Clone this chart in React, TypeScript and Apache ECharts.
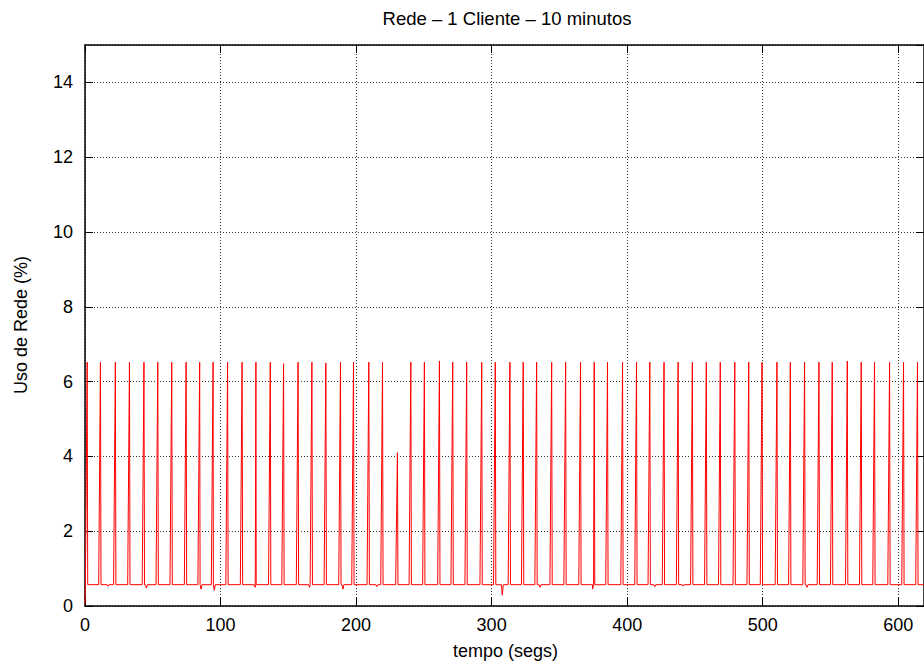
import React, { useEffect, useRef } from "react";
import * as echarts from "echarts";

const TITLE = "Rede – 1 Cliente – 10 minutos";
const X_LABEL = "tempo (segs)";
const Y_LABEL = "Uso de Rede (%)";

const X_MIN = 0;
const X_MAX = 619;
const X_INTERVAL = 100;
const Y_MIN = 0;
const Y_MAX = 15;
const Y_INTERVAL = 2;

// peak times (s) of each traffic burst
const spikeTimes = [
  1.6, 11.4, 22.4, 32.8, 43.5, 53.7, 64.0, 74.6, 84.6, 94.5, 105.2, 115.9, 126.1, 136.7, 146.5, 157.2,
  167.4, 177.7, 188.5, 198.1, 209.4, 219.5, 230.5, 240.4, 250.4, 261.5, 271.3, 281.6, 292.7, 302.7, 313.5,
  323.3, 333.2, 344.3, 354.6, 365.6, 375.7, 385.5, 396.6, 406.9, 416.7, 427.2, 437.6, 448.1, 458.4, 468.7, 479.4,
  489.7, 499.5, 510.5, 520.4, 530.9, 541.5, 551.3, 562.4, 572.7, 582.5, 593.6, 603.9, 614.2,
];
// peak values (%) of each burst
const spikePeaks = [
  6.52, 6.52, 6.52, 6.52, 6.52, 6.52, 6.52, 6.52, 6.52, 6.52, 6.52, 6.52, 6.52, 6.52, 6.48, 6.52,
  6.52, 6.5, 6.52, 6.52, 6.52, 6.52, 4.1, 6.52, 6.52, 6.55, 6.52, 6.52, 6.52, 6.52, 6.52,
  6.52, 6.52, 6.52, 6.52, 6.52, 6.52, 6.52, 6.52, 6.52, 6.52, 6.52, 6.52, 6.52, 6.52, 6.52, 6.52,
  6.52, 6.52, 6.52, 6.52, 6.52, 6.52, 6.52, 6.55, 6.52, 6.52, 6.52, 6.52, 6.52,
];
// idle level between bursts (%)
const baseline = 0.57;
// small dips below the idle level
const dipTimes = [17, 45.3, 85.6, 95.4, 125.6, 165.7, 190.3, 215.3, 307.9, 335.7, 374.5, 420.4, 441.3, 532.7];
const dipValues = [0.53, 0.48, 0.45, 0.42, 0.5, 0.5, 0.45, 0.52, 0.29, 0.5, 0.45, 0.52, 0.53, 0.5];
// first and last samples
const startPoint = [0, 0.05];
const endPoint = [619, 0.57];

function buildSeries(): number[][] {
  const pts: number[][] = [startPoint];
  spikeTimes.forEach((t, i) => {
    pts.push([t - 1.3, baseline], [t, spikePeaks[i]], [t + 0.4, baseline]);
  });
  dipTimes.forEach((t, i) => {
    pts.push([t - 0.7, baseline], [t, dipValues[i]], [t + 0.7, baseline]);
  });
  pts.push(endPoint);
  pts.sort((a, b) => a[0] - b[0]);
  return pts;
}

const FONT = "'Liberation Sans', Arial, Helvetica, sans-serif";

export default function App() {
  const ref = useRef<HTMLDivElement>(null);
  useEffect(() => {
    if (!ref.current) return;
    const chart = echarts.init(ref.current, undefined, { renderer: "svg" });
    const axisLine = { show: true, onZero: false, lineStyle: { color: "#000", width: 1.5 } };
    const tick = { show: true, inside: true, length: 8, lineStyle: { color: "#000", width: 1 } };
    const grid = { show: true, lineStyle: { color: "#333", width: 1, type: [1, 2] } };
    chart.setOption({
      animation: false,
      backgroundColor: "#fff",
      grid: { left: 85, right: 0, top: 45, bottom: 62, containLabel: false },
      graphic: [
        {
          type: "text",
          x: 507,
          y: 18.5,
          style: { text: TITLE, font: `18.5px ${FONT}`, fill: "#000", textAlign: "center", textVerticalAlign: "middle" },
        },
        {
          type: "text",
          x: 505.5,
          y: 651,
          style: { text: X_LABEL, font: `18px ${FONT}`, fill: "#000", textAlign: "center", textVerticalAlign: "middle" },
        },
        {
          type: "text",
          x: 20.7,
          y: 325,
          rotation: Math.PI / 2,
          style: { text: Y_LABEL, font: `18px ${FONT}`, fill: "#000", textAlign: "center", textVerticalAlign: "middle" },
        },
      ],
      xAxis: [
        {
          type: "value",
          position: "bottom",
          min: X_MIN,
          max: X_MAX,
          interval: X_INTERVAL,
          axisLine,
          axisTick: tick,
          splitLine: grid,
          axisLabel: {
            color: "#000",
            fontSize: 18,
            fontFamily: FONT,
            margin: 10,
            showMaxLabel: false,
          },
        },
        {
          type: "value",
          position: "top",
          min: X_MIN,
          max: X_MAX,
          interval: X_INTERVAL,
          axisLine,
          axisTick: tick,
          splitLine: { show: false },
          axisLabel: { show: false },
        },
      ],
      yAxis: [
        {
          type: "value",
          position: "left",
          min: Y_MIN,
          max: Y_MAX,
          interval: Y_INTERVAL,
          axisLine,
          axisTick: tick,
          splitLine: grid,
          axisLabel: { color: "#000", fontSize: 18, fontFamily: FONT, margin: 12, showMaxLabel: false },
        },
        {
          type: "value",
          position: "right",
          min: Y_MIN,
          max: Y_MAX,
          interval: Y_INTERVAL,
          axisLine,
          axisTick: tick,
          splitLine: { show: false },
          axisLabel: { show: false },
        },
      ],
      series: [
        {
          type: "line",
          xAxisIndex: 0,
          yAxisIndex: 0,
          data: buildSeries(),
          showSymbol: false,
          symbol: "none",
          lineStyle: { color: "#ff0000", width: 1 },
          z: 3,
        },
      ],
    });
    return () => chart.dispose();
  }, []);
  return (
    <div
      ref={ref}
      style={{ position: "fixed", left: 0, top: 0, width: 924, height: 668, background: "#fff" }}
    />
  );
}
